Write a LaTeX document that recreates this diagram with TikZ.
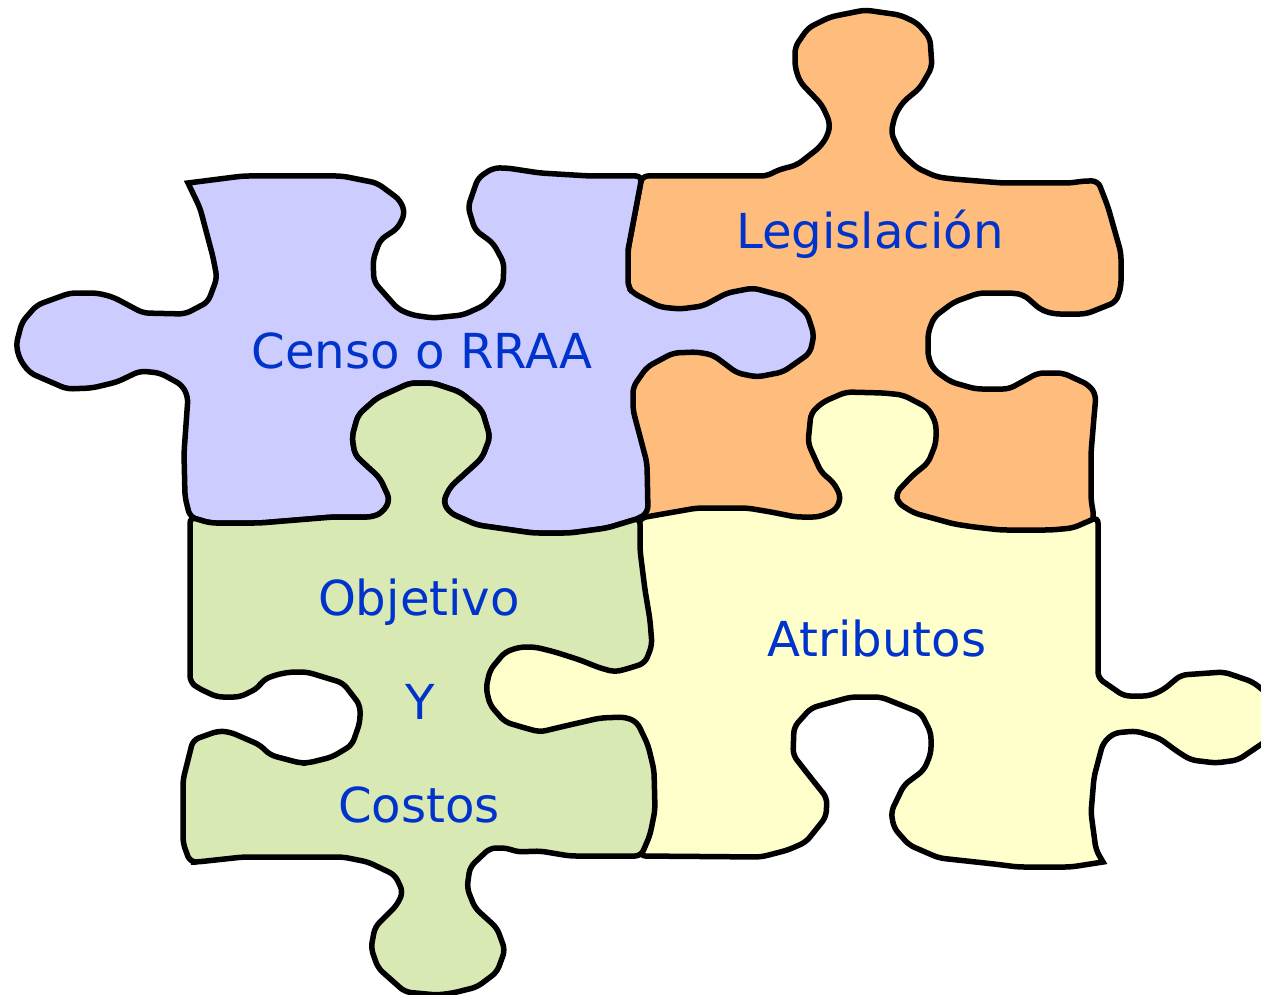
\documentclass[tikz,border=0pt]{standalone}
\usepackage{fontspec}
\setmainfont{DejaVu Sans}
\definecolor{pv}{HTML}{CCCCFF}
\definecolor{po}{HTML}{FFBD7D}
\definecolor{pg}{HTML}{D9E9B4}
\definecolor{py}{HTML}{FFFFCC}
\definecolor{tx}{HTML}{0033CC}
\tikzset{piece/.style={draw=black,line width=5.5pt,line join=miter,miter limit=4,rounded corners=6pt},
lab/.style={text=tx,font=\fontsize{48.2}{52}\selectfont,inner sep=0pt,anchor=base}}
\begin{document}
\begin{tikzpicture}[x=1pt,y=-1pt]
\useasboundingbox[clip] (0,0) rectangle (1261,995);
% orange
\path[piece,fill=po] (642,176)--(767,176)--(778,170)--(797,165)--(820,147)--(828,135)--(830,123)--(822,105)--(800,82)--(795,67)--(795,47)--(808,28)--(830,17)--(850,13)--(865,10)--(900,15)--(917,23)--(930,38)--(932,67)--(920,88)--(903,102)--(895,115)--(891,133)--(900,152)--(917,168)--(937,177)--(953,179)--(990,182)--(1003,183)--(1071,183)--(1083,181)--(1098,181)--(1108,207)--(1121,253)--(1121,287)--(1116,302)--(1086,314)--(1054,314)--(1041,310)--(1024,295)--(1013,293)--(979,293)--(954,302)--(934,317)--(928,333)--(928,357)--(934,370)--(951,382)--(976,389)--(1009,389)--(1038,373)--(1063,373)--(1089,385)--(1096,395)--(1094,417)--(1091,453)--(1091,500)--(1094,517)--(1085,540)--(625,540)--(620,400)--(650,320)--(628,287)--(628,250)--cycle;
% purple
\path[piece,fill=pv] (188,183)--(243,176)--(342,176)--(377,183)--(400,200)--(405,213)--(398,228)--(380,240)--(373,260)--(374,282)--(398,309)--(412,315)--(433,318)--(463,315)--(485,305)--(503,285)--(504,263)--(493,243)--(475,230)--(468,207)--(478,178)--(493,168)--(507,168)--(540,173)--(590,176)--(642,176)[sharp corners]--(628,250)[rounded corners=6pt]--(628,287)--(633,293)--(660,307)--(680,309)--(703,306)--(727,293)--(753,288)--(787,297)--(807,313)--(814,335)--(810,353)--(783,372)--(757,377)--(737,373)--(713,355)--(697,352)--(673,353)--(647,367)--(633,387)--(633,410)--(647,463)--(648,512)--(640,518)--(607,528)--(570,533)--(533,533)--(477,525)--(450,513)--(443,502)--(450,487)--(482,458)--(490,437)--(482,410)--(460,392)--(433,383)--(410,383)--(377,398)--(358,415)--(352,437)--(355,455)--(380,478)--(390,500)--(383,512)--(373,517)--(333,517)--(260,523)--(210,523)--(190,517)--(185,497)--(184,453)--(188,397)--(182,385)--(160,373)--(140,371)--(117,382)--(92,388)--(67,389)--(30,373)--(20,360)--(16,345)--(22,322)--(37,305)--(70,293)--(97,293)--(113,297)--(143,313)--(185,314)--(208,302)--(217,278)--(213,257)--(200,208)[sharp corners]--cycle;
% yellow
\path[piece,fill=py] (640,518)--(697,508)--(747,508)--(771,512)--(796,517)--(819,517)--(836,510)--(841,497)--(834,483)--(821,472)--(808,443)--(811,413)--(823,402)--(846,392)--(884,393)--(903,395)--(928,408)--(936,423)--(936,443)--(928,463)--(913,475)--(896,493)--(898,503)--(914,513)--(954,524)--(974,527)--(1001,530)--(1051,530)--(1073,528)--(1098,517)--(1098,678)--(1124,696)--(1149,696)--(1163,690)--(1181,675)--(1224,672)--(1253,682)--(1275,700)--(1275,735)--(1238,760)--(1216,763)--(1191,760)--(1178,752)--(1159,738)--(1136,731)--(1114,733)--(1103,743)--(1094,777)--(1091,813)--(1096,850)[sharp corners]--(1103,862)[rounded corners=6pt]--(1071,867)--(1018,867)--(994,864)--(939,858)--(909,845)--(894,828)--(891,812)--(904,785)--(924,770)--(931,753)--(931,733)--(921,713)--(881,697)--(851,697)--(811,708)--(794,727)--(793,755)--(811,778)--(827,798)--(826,817)--(806,842)--(788,850)--(761,857)--(640,856)--(620,780)--(470,760)--(470,620)--(620,600)--cycle;
% green
\path[piece,fill=pg] (190,517)--(210,523)--(260,523)--(333,517)--(373,517)--(383,512)--(390,500)--(380,478)--(355,455)--(352,437)--(358,415)--(377,398)--(410,383)--(433,383)--(460,392)--(482,410)--(490,437)--(482,458)--(450,487)--(443,502)--(450,513)--(477,525)--(533,533)--(570,533)--(607,528)--(640,518)--(640,550)--(645,590)--(650,620)--(652,645)--(645,663)--(630,668)--(615,672)--(600,668)--(580,660)--(555,652)--(535,647)--(520,647)--(505,652)--(490,670)--(486,688)--(490,705)--(505,722)--(525,728)--(540,732)--(565,726)--(600,718)--(625,717)--(637,722)--(648,745)--(654,770)--(655,810)--(650,835)--(641,856)--(570,856)--(540,851)--(517,852)--(507,848)--(490,848)--(470,867)--(467,888)--(475,908)--(497,928)--(505,950)--(497,972)--(477,987)--(453,993)--(437,995)--(405,992)--(378,968)--(371,948)--(375,927)--(397,905)--(403,892)--(395,875)--(368,862)--(343,857)--(243,857)--(197,862)--(190,862)--(183,843)--(183,780)--(193,740)--(218,731)--(230,732)--(260,745)--(270,755)--(300,763)--(308,763)--(332,757)--(352,745)--(360,722)--(360,705)--(343,683)--(307,672)--(290,672)--(275,675)--(263,680)--(258,688)--(240,697)--(217,697)--(198,688)--(190,682)--cycle;
\node[lab] (censo) at (422,368) {Censo o RRAA};
\node[lab] (leg) at (870,248) {Legislación};
\node[lab] (obj) at (419,615) {Objetivo};
\node[lab] (yy) at (420,719) {Y};
\node[lab] (cos) at (419,822) {Costos};
\node[lab] (atr) at (877,656) {Atributos};
\end{tikzpicture}
\end{document}
